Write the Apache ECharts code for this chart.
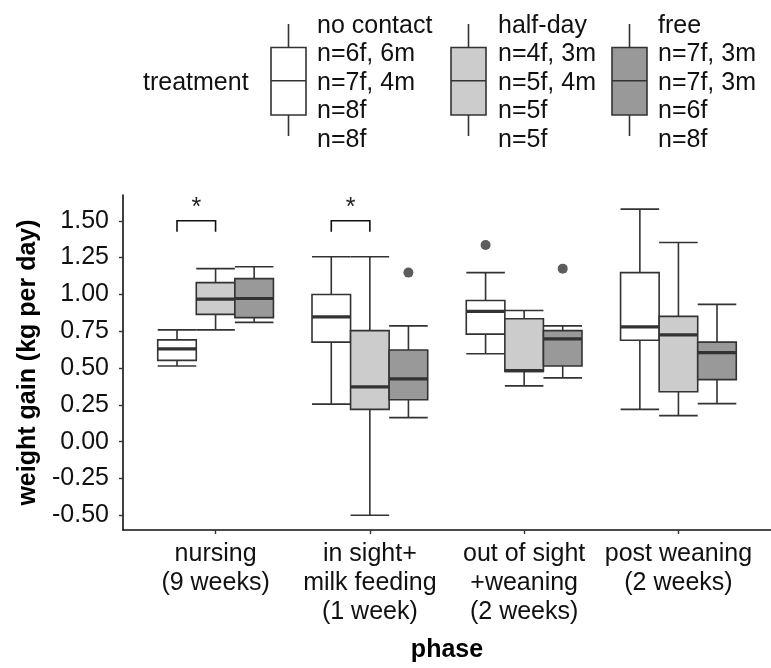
<!DOCTYPE html>
<html>
<head>
<meta charset="utf-8">
<script src="https://cdn.jsdelivr.net/npm/echarts@6/dist/echarts.min.js"></script>
<style>
  html, body { margin: 0; padding: 0; background: #fff; }
  #chart { width: 771px; height: 668px; }
</style>
</head>
<body>
<div id="chart"></div>
<script>
// Phases on the x axis
const phases = [
  'nursing\n(9 weeks)',
  'in sight+\nmilk feeding\n(1 week)',
  'out of sight\n+weaning\n(2 weeks)',
  'post weaning\n(2 weeks)'
];

const treatments = ['no contact', 'half-day', 'free'];

// Box statistics per phase: [lower whisker, Q1, median, Q3, upper whisker]
const noContactStats = [
  [0.514, 0.552, 0.630, 0.691, 0.759],
  [0.255, 0.676, 0.848, 0.999, 1.256],
  [0.597, 0.730, 0.885, 0.959, 1.148],
  [0.219, 0.689, 0.779, 1.148, 1.579]
];
const halfDayStats = [
  [0.759, 0.864, 0.968, 1.080, 1.175],
  [-0.500, 0.219, 0.372, 0.754, 1.256],
  [0.379, 0.477, 0.482, 0.835, 0.891],
  [0.177, 0.339, 0.725, 0.851, 1.352]
];
const freeStats = [
  [0.810, 0.842, 0.972, 1.107, 1.188],
  [0.163, 0.285, 0.426, 0.622, 0.786],
  [0.433, 0.514, 0.698, 0.754, 0.786],
  [0.258, 0.421, 0.604, 0.676, 0.932]
];

// Outliers: [phase index, value]
const noContactOutliers = [[2, 1.336]];
const halfDayOutliers = [];
const freeOutliers = [[1, 1.148], [2, 1.175]];

// Sample sizes per phase, shown in the legend
const noContactN = ['n=6f, 6m', 'n=7f, 4m', 'n=8f', 'n=8f'];
const halfDayN = ['n=4f, 3m', 'n=5f, 4m', 'n=5f', 'n=5f'];
const freeN = ['n=7f, 3m', 'n=7f, 3m', 'n=6f', 'n=8f'];

// Significance brackets between no contact and half-day: [phase index, bracket y, leg end y]
const sigPhases = [0, 1];
const sigTop = [1.50, 1.50];
const sigLeg = [1.425, 1.425];
const sigLabel = ['*', '*'];

const yTicks = [-0.5, -0.25, 0, 0.25, 0.5, 0.75, 1.0, 1.25, 1.5];

// ---- styling ----
const FONT = "'Liberation Sans', Arial, sans-serif";
const fills = ['#ffffff', '#cccccc', '#999999'];
const stroke = '#333333';
const dodge = [-0.25, 0, 0.25];
const boxW = 0.25;

const statsAll = [noContactStats, halfDayStats, freeStats];
const outAll = [noContactOutliers, halfDayOutliers, freeOutliers];
const nAll = [noContactN, halfDayN, freeN];

function boxRenderer(fill) {
  return function (params, api) {
    const x = api.value(0);
    const lo = api.coord([x, api.value(1)]);
    const q1 = api.coord([x, api.value(2)]);
    const md = api.coord([x, api.value(3)]);
    const q3 = api.coord([x, api.value(4)]);
    const hi = api.coord([x, api.value(5)]);
    const w = api.size([boxW, 0])[0];
    const cx = lo[0];
    const l = cx - w / 2, r = cx + w / 2;
    const ls = { stroke: stroke, lineWidth: 1.6 };
    return {
      type: 'group',
      children: [
        { type: 'line', shape: { x1: cx, y1: q3[1], x2: cx, y2: hi[1] }, style: ls },
        { type: 'line', shape: { x1: cx, y1: q1[1], x2: cx, y2: lo[1] }, style: ls },
        { type: 'line', shape: { x1: l, y1: hi[1], x2: r, y2: hi[1] }, style: ls },
        { type: 'line', shape: { x1: l, y1: lo[1], x2: r, y2: lo[1] }, style: ls },
        { type: 'rect', shape: { x: l, y: q3[1], width: w, height: q1[1] - q3[1] },
          style: { fill: fill, stroke: stroke, lineWidth: 1.6 } },
        { type: 'line', shape: { x1: l, y1: md[1], x2: r, y2: md[1] },
          style: { stroke: stroke, lineWidth: 3.2 } }
      ]
    };
  };
}

const series = [];
statsAll.forEach(function (stats, g) {
  series.push({
    type: 'custom',
    name: treatments[g],
    renderItem: boxRenderer(fills[g]),
    encode: { x: 0, y: [1, 2, 3, 4, 5] },
    data: stats.map(function (s, i) { return [i + 1 + dodge[g]].concat(s); }),
    z: 2
  });
});
outAll.forEach(function (outs, g) {
  series.push({
    type: 'scatter',
    symbol: 'circle',
    symbolSize: 10,
    itemStyle: { color: '#333333' },
    data: outs.map(function (o) { return [o[0] + 1 + dodge[g], o[1]]; }),
    z: 3
  });
});

// significance brackets
series.push({
  type: 'custom',
  renderItem: function (params, api) {
    const p = api.value(0);
    const top = api.value(1), leg = api.value(2);
    const a = api.coord([p + dodge[0], top]);
    const b = api.coord([p + dodge[1], top]);
    const aL = api.coord([p + dodge[0], leg]);
    const bL = api.coord([p + dodge[1], leg]);
    return {
      type: 'group',
      children: [
        { type: 'polyline', shape: { points: [[aL[0], aL[1]], [a[0], a[1]], [b[0], b[1]], [bL[0], bL[1]]] },
          style: { stroke: '#111', lineWidth: 1.6, fill: null } },
        { type: 'text', x: (a[0] + b[0]) / 2, y: a[1] - 13,
          style: { text: sigLabel[params.dataIndex], font: '25px ' + FONT, fill: '#222',
            align: 'center', verticalAlign: 'middle' } }
      ]
    };
  },
  encode: { x: 0, y: [1, 2] },
  data: sigPhases.map(function (p, i) { return [p + 1, sigTop[i], sigLeg[i]]; }),
  z: 4
});

// ---- legend drawn as graphic elements ----
const legendBoxLeft = [271, 451, 612];
const legendTextLeft = [317, 498, 658];
const keyW = 35;
const graphics = [{
  type: 'text', left: 143, top: 83 - 14,
  style: { text: 'treatment', font: '25px ' + FONT, fill: '#111', lineHeight: 28 }
}];
treatments.forEach(function (t, g) {
  const bx = legendBoxLeft[g];
  const cx = bx + keyW / 2;
  graphics.push(
    { type: 'line', shape: { x1: cx, y1: 24, x2: cx, y2: 47.5 }, style: { stroke: stroke, lineWidth: 1.6 } },
    { type: 'line', shape: { x1: cx, y1: 115, x2: cx, y2: 136 }, style: { stroke: stroke, lineWidth: 1.6 } },
    { type: 'rect', shape: { x: bx, y: 47.5, width: keyW, height: 67.5 },
      style: { fill: fills[g], stroke: stroke, lineWidth: 1.6 } },
    { type: 'line', shape: { x1: bx, y1: 80.7, x2: bx + keyW, y2: 80.7 }, style: { stroke: stroke, lineWidth: 1.6 } },
    { type: 'text', x: legendTextLeft[g], y: 83,
      style: { text: [t].concat(nAll[g]).join('\n'), font: '25px ' + FONT, fill: '#111',
        lineHeight: 28.6, align: 'left', verticalAlign: 'middle' } }
  );
});

const chart = echarts.init(document.getElementById('chart'), null, { renderer: 'canvas' });
chart.setOption({
  animation: false,
  backgroundColor: '#ffffff',
  grid: { left: 123, right: -8.5, top: 195, bottom: 136, containLabel: false },
  xAxis: {
    type: 'value',
    min: 0.4,
    max: 4.6,
    splitLine: { show: false },
    axisLine: { show: true, onZero: false, lineStyle: { color: '#111', width: 1.6 } },
    axisTick: { show: true, customValues: [1, 2, 3, 4], length: 4, lineStyle: { color: '#333', width: 1.4 } },
    axisLabel: {
      customValues: [1, 2, 3, 4],
      formatter: function (v) { return phases[Math.round(v) - 1] || ''; },
      fontFamily: FONT, fontSize: 25, color: '#111', lineHeight: 29, margin: 10
    },
    name: 'phase',
    nameLocation: 'middle',
    nameGap: 108,
    nameTextStyle: { fontFamily: FONT, fontSize: 25, fontWeight: 'bold', color: '#000' }
  },
  yAxis: {
    type: 'value',
    min: -0.6,
    max: 1.675,
    splitLine: { show: false },
    axisLine: { show: true, onZero: false, lineStyle: { color: '#111', width: 1.6 } },
    axisTick: { show: true, customValues: yTicks, length: 4, lineStyle: { color: '#333', width: 1.4 } },
    axisLabel: {
      customValues: yTicks,
      formatter: function (v) { return v.toFixed(2); },
      fontFamily: FONT, fontSize: 25, color: '#111', margin: 14
    },
    name: 'weight gain (kg per day)',
    nameLocation: 'middle',
    nameRotate: 90,
    nameGap: 82,
    nameTextStyle: { fontFamily: FONT, fontSize: 25, fontWeight: 'bold', color: '#000' }
  },
  graphic: graphics,
  series: series
});
</script>
</body>
</html>
